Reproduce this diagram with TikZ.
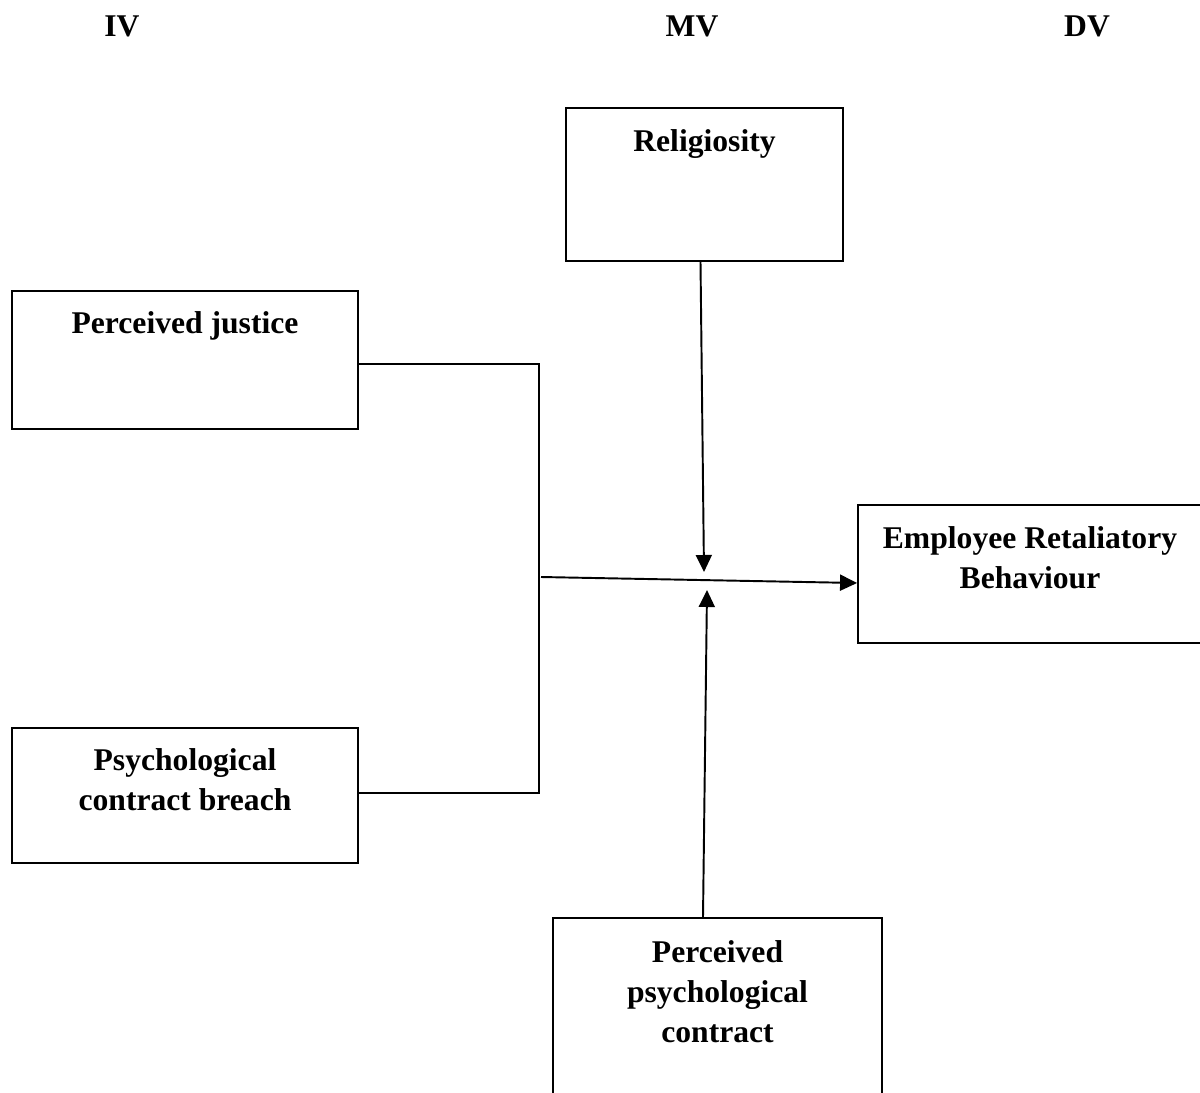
\documentclass[tikz,border=0pt]{standalone}
\usepackage{fontspec}
\setmainfont{Liberation Serif}
\usetikzlibrary{arrows.meta,positioning,calc}
\tikzset{>={Triangle[length=0.34cm,width=0.32cm]}}
\tikzset{
  varbox/.style={draw, line width=1.1pt, inner sep=0pt},
  boxtext/.style={align=center, inner sep=0pt,
    font=\fontsize{18}{22.8}\selectfont\bfseries},
  head/.style={anchor=base, inner sep=0pt,
    font=\fontsize{18}{22.8}\selectfont\bfseries},
  link/.style={line width=1.1pt},
}
\begin{document}
\begin{tikzpicture}[x=0.02cm, y=-0.02cm]
  \useasboundingbox (0,0) rectangle (1200,1092);
  % column headings
  \node[head] (iv) at (122,36) {IV};
  \node[head] (mv) at (692,36) {MV};
  \node[head] (dv) at (1087,36) {DV};
  % boxes
  \node[varbox, minimum width=5.54cm, minimum height=3.06cm] (rel) at (704.5,184.5) {};
  \node[varbox, minimum width=6.92cm, minimum height=2.76cm] (pj) at (185,360) {};
  \node[varbox, minimum width=6.92cm, minimum height=2.70cm] (pcb) at (185,795.5) {};
  \node[varbox, minimum width=6.88cm, minimum height=2.76cm] (erb) at (1030,574) {};
  \node[varbox, minimum width=6.58cm, minimum height=3.80cm] (ppc) at (717.5,1013) {};
  % box texts
  \node[boxtext, below=0.44cm of rel.north] (rel-t) {Religiosity};
  \node[boxtext, below=0.42cm of pj.north] (pj-t) {Perceived justice};
  \node[boxtext, below=0.42cm of pcb.north] (pcb-t) {Psychological\\contract breach};
  \node[boxtext, below=0.44cm of erb.north] (erb-t) {Employee Retaliatory\\Behaviour};
  \node[boxtext, below=0.46cm of ppc.north] (ppc-t) {Perceived\\psychological\\contract};
  % joints
  \coordinate (jt) at (539,364);
  \coordinate (jb) at (539,793);
  \coordinate (jm) at (541,577);
  \coordinate (tipr) at (704,572);
  \coordinate (tipp) at (707,590);
  % connectors
  \draw[link] (pj.east |- jt) -- (jt) -- (jb) -- (pcb.east |- jb);
  \draw[link, ->] (jm) -- ($(erb.west)+(0,9)$);
  \draw[link, ->] ($(rel.south)+(-4,0)$) -- (tipr);
  \draw[link, ->] ($(ppc.north)+(-14.5,0)$) -- (tipp);
\end{tikzpicture}
\end{document}
